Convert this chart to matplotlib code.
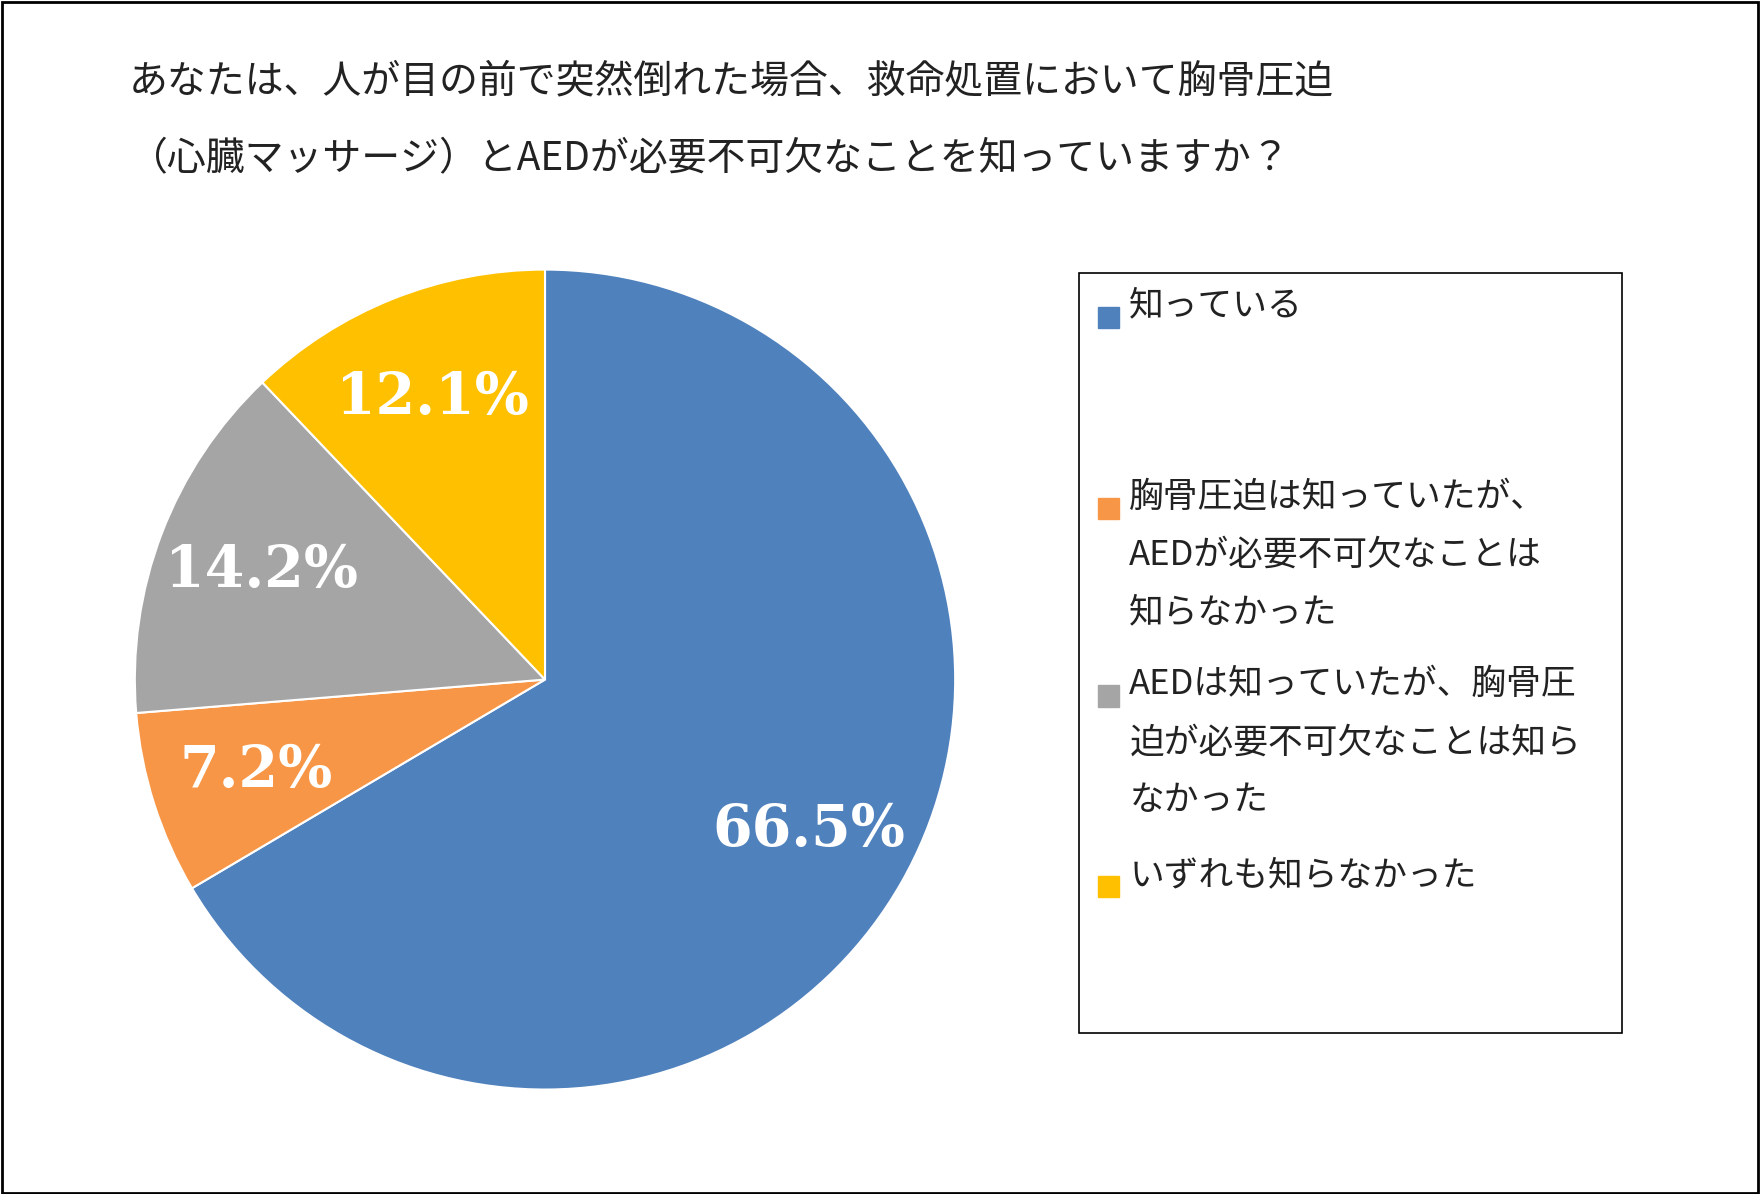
import matplotlib.pyplot as plt
from matplotlib.patches import Rectangle

plt.rcParams['font.family'] = 'Noto Sans CJK JP'

categories = ['知っている',
              '胸骨圧迫は知っていたが、\nAEDが必要不可欠なことは\n知らなかった',
              'AEDは知っていたが、胸骨圧\n迫が必要不可欠なことは知ら\nなかった',
              'いずれも知らなかった']
values = [66.5, 7.2, 14.2, 12.1]
colors = ['#4F81BD', '#F79646', '#A5A5A5', '#FFC000']
title = 'あなたは、人が目の前で突然倒れた場合、救命処置において胸骨圧迫\n（心臓マッサージ）とAEDが必要不可欠なことを知っていますか？'

W, H = 1568, 1063  # reference layout units
fig = plt.figure(figsize=(17.62, 11.94), dpi=100)

# pie
r = 365
cx, cy = 485, 605
ax = fig.add_axes([(cx - r) / W, 1 - (cy + r) / H, 2 * r / W, 2 * r / H])
wedges, texts, autotexts = ax.pie(values, colors=colors, startangle=90, counterclock=False,
                                  autopct='%.1f%%', pctdistance=0.74,
                                  wedgeprops=dict(edgecolor='white', linewidth=1.5),
                                  textprops=dict(color='white', fontsize=41, fontweight='bold',
                                                 family='DejaVu Serif'))
ax.set_aspect('auto')
ax.set_xlim(-1, 1)
ax.set_ylim(-1, 1)

# title
fig.text(115 / W, 1 - 55 / H, title, fontsize=28, va='top', ha='left',
         linespacing=2.2, color='#222222')

# legend box
fig.patches.append(Rectangle((960 / W, 1 - 920 / H), 483 / W, 677 / H, transform=fig.transFigure,
                             fill=False, edgecolor='black', linewidth=1.2))
ys = [283, 453, 620, 790]
for lab, c, y in zip(categories, colors, ys):
    fig.patches.append(Rectangle((977 / W, 1 - (y + 9) / H), 19 / W, 19 / H,
                                 transform=fig.transFigure, color=c))
    fig.text(1005 / W, 1 - (y - 26) / H, lab, fontsize=25, va='top', ha='left',
             linespacing=1.85, color='#222222')

# outer border
fig.patches.append(Rectangle((0.001, 0.001), 0.997, 0.997, transform=fig.transFigure,
                             fill=False, edgecolor='black', linewidth=2))

fig.savefig('out.png', dpi=100)
